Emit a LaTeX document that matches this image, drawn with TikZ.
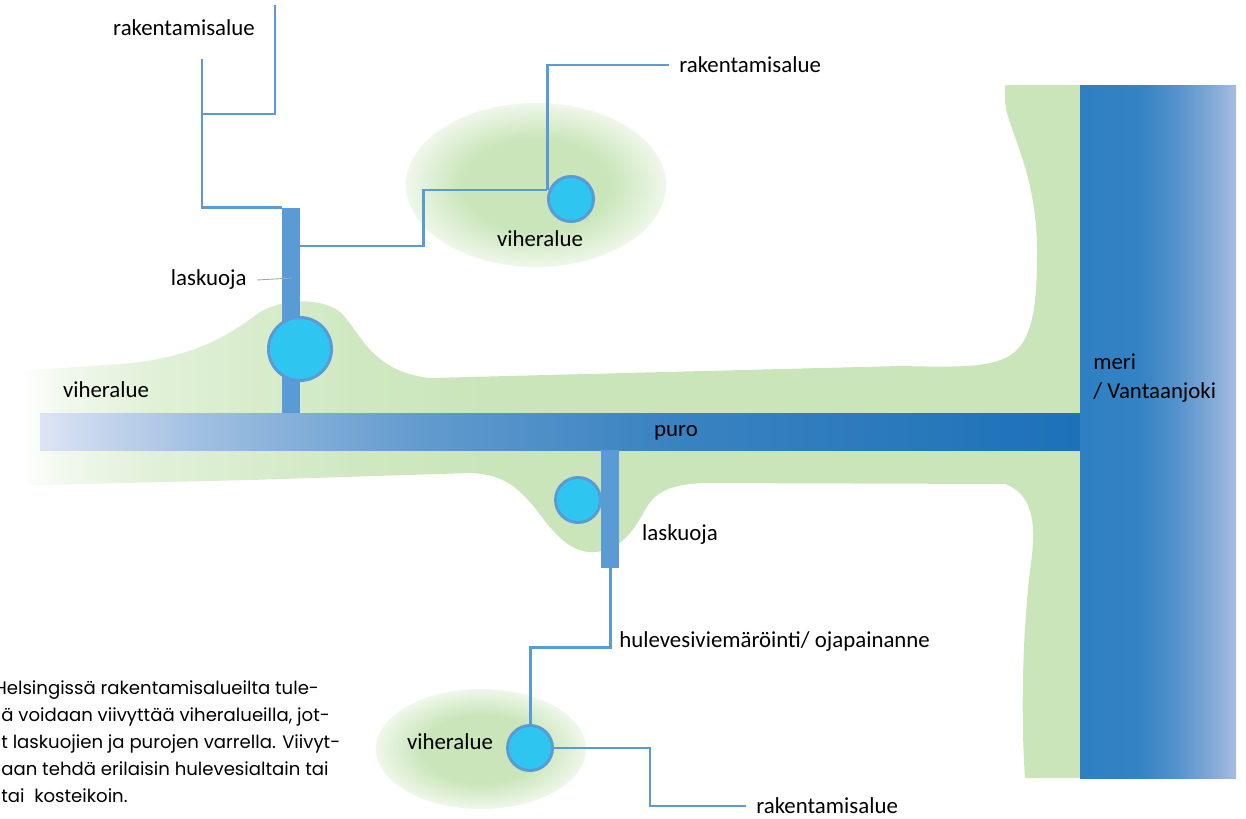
\documentclass[tikz,border=0pt]{standalone}
\usepackage{fontspec}
\setmainfont{Carlito}
\newfontfamily\notefont{Poppins}
\definecolor{grass}{RGB}{201,229,185}
\definecolor{pipeblue}{RGB}{91,155,213}
\definecolor{pondcyan}{RGB}{46,197,240}
\definecolor{riverlight}{RGB}{222,228,244}
\definecolor{riverdark}{RGB}{28,113,184}
\definecolor{sealeft}{RGB}{46,128,194}
\definecolor{searight}{RGB}{166,187,225}
\pgfdeclarehorizontalshading{meadow}{100bp}{color(0bp)=(white); color(25.9bp)=(white); color(27.8bp)=(grass!25!white); color(32bp)=(grass!55!white); color(41.2bp)=(grass!87!white); color(48bp)=(grass); color(100bp)=(grass)}
\pgfdeclarehorizontalshading{puroshade}{100bp}{color(0bp)=(riverlight); color(25bp)=(riverlight); color(27.9bp)=(riverdark!13!riverlight); color(32.7bp)=(riverdark!32!riverlight); color(37.5bp)=(riverdark!47!riverlight); color(43.3bp)=(riverdark!64!riverlight); color(54.8bp)=(riverdark!84!riverlight); color(75bp)=(riverdark); color(100bp)=(riverdark)}
\pgfdeclarehorizontalshading{merishade}{100bp}{color(0bp)=(sealeft); color(25bp)=(sealeft); color(44bp)=(searight!5!sealeft); color(55.4bp)=(searight!30!sealeft); color(65bp)=(searight!62!sealeft); color(75bp)=(searight); color(100bp)=(searight)}
\pgfdeclareradialshading{glade}{\pgfpoint{0bp}{0bp}}{color(0bp)=(grass); color(14bp)=(grass); color(25bp)=(grass!30!white); color(50bp)=(grass!30!white)}

\begin{document}
\begin{tikzpicture}[x=0.02cm,y=-0.02cm,
  lbl/.style={font=\fontsize{13}{16.5}\selectfont, inner xsep=0.2cm, inner ysep=0},
  note/.style={font=\notefont\fontsize{10.3}{15.4}\selectfont, align=left, anchor=north west, inner sep=0},
  ditch/.style={fill=pipeblue, inner sep=0, minimum width=0.36cm},
  pond/.style={circle, draw=pipeblue, line width=1.7pt, fill=pondcyan, inner sep=0, minimum size=0.9cm},
  pipe/.style={pipeblue, line width=1.7pt},
  thinpipe/.style={pipeblue, line width=0.85pt}]
\useasboundingbox (0,0) rectangle (1246,818);
\shade[shading=glade] (536,185) ellipse [x radius=2.6cm, y radius=1.64cm];
\shade[shading=glade] (481,749) ellipse [x radius=2.1cm, y radius=1.2cm];
\shade[shading=meadow] (0,372) -- (120,364) .. controls (200,358) and (235,330) .. (260,312)
  .. controls (280,300) and (320,296) .. (340,312) .. controls (360,330) and (370,372) .. (430,378)
  -- (900,366) .. controls (950,367) and (985,368) .. (1005,358) .. controls (1035,345) and (1037,300) .. (1037,250)
  .. controls (1037,170) and (1005,125) .. (1005,100) -- (1005,85) -- (1080,85) -- (1080,778) -- (1025,778)
  .. controls (1021,720) and (1022,640) .. (1030,570) .. controls (1036,530) and (1036,495) .. (1005,484)
  -- (705,483) .. controls (670,484) and (655,492) .. (645,510) .. controls (630,538) and (615,552) .. (592,552)
  .. controls (570,552) and (555,535) .. (535,508) .. controls (520,490) and (505,474) .. (470,473)
  -- (250,480) -- (0,486) -- cycle;
\shade[shading=puroshade] (40,413) rectangle (1080,450);
\shade[shading=merishade] (1080,85) rectangle (1236,778);

\node[ditch, minimum height=4.1cm] (lq1) at (291,310.5) {};
\node[ditch, minimum height=2.36cm] (lq2) at (610,509) {};
\node[pond, minimum size=1.26cm] (p1) at (300,349) {};
\node[pond] (p2) at (571,199) {};
\node[pond] (p3) at (578,500) {};
\node[pond] (p4) at (530,748) {};

\node[lbl] (rak1) at (184,28) {rakentamisalue};
\node[lbl,anchor=west] (rak2) at (669,65) {rakentamisalue};
\node[lbl] (vih1) at (540,239) {viheralue};
\node[lbl,anchor=east] (lask1) at (257,280) {laskuoja};
\node[lbl] (vih2) at (106,390) {viheralue};
\node[lbl] (puro) at (676,433) {puro};
\node[lbl,anchor=west,align=left] (meri) at (1083,378) {meri\\/ Vantaanjoki};
\node[lbl] (lask2) at (680,535) {laskuoja};
\node[lbl,anchor=west] (hule) at (609,642) {hulevesiviemäröinti/ ojapainanne};
\node[lbl] (vih3) at (450,742) {viheralue};
\node[lbl,anchor=west] (rak3) at (746,806) {rakentamisalue};
\node[note] (note) at (1,680) {\hspace*{-0.14cm}Helsingissä rakentamisalueilta tule-\\ä voidaan viivyttää viheralueilla, jot-\\t laskuojien ja purojen varrella. Viivyt-\\aan tehdä erilaisin hulevesialtain tai\\tai\ \ kosteikoin.};

\coordinate (src1) at (202,59);
\coordinate (t0) at (202,114);
\coordinate (src2) at (275,5);
\coordinate (j1) at (423,246);
\coordinate (j2) at (547,190);
\coordinate (j3) at (530,647);
\coordinate (j4) at (650,806);
\coordinate (tick) at (292,278);

\draw[pipe] (src1) |- (lq1.north west);
\draw[thinpipe] (t0) -| (src2);
\draw[pipe] (lq1.east |- j1) -- (j1) |- (j2);
\draw[pipe] (j2) |- (rak2.west);
\draw[pipe] (lq2.south) |- (j3) -- (p4.north);
\draw[thinpipe] (p4.east) -| (j4) -- (rak3.west);
\draw[gray!70, line width=0.5pt] (lask1.east) -- (tick);
\end{tikzpicture}
\end{document}
